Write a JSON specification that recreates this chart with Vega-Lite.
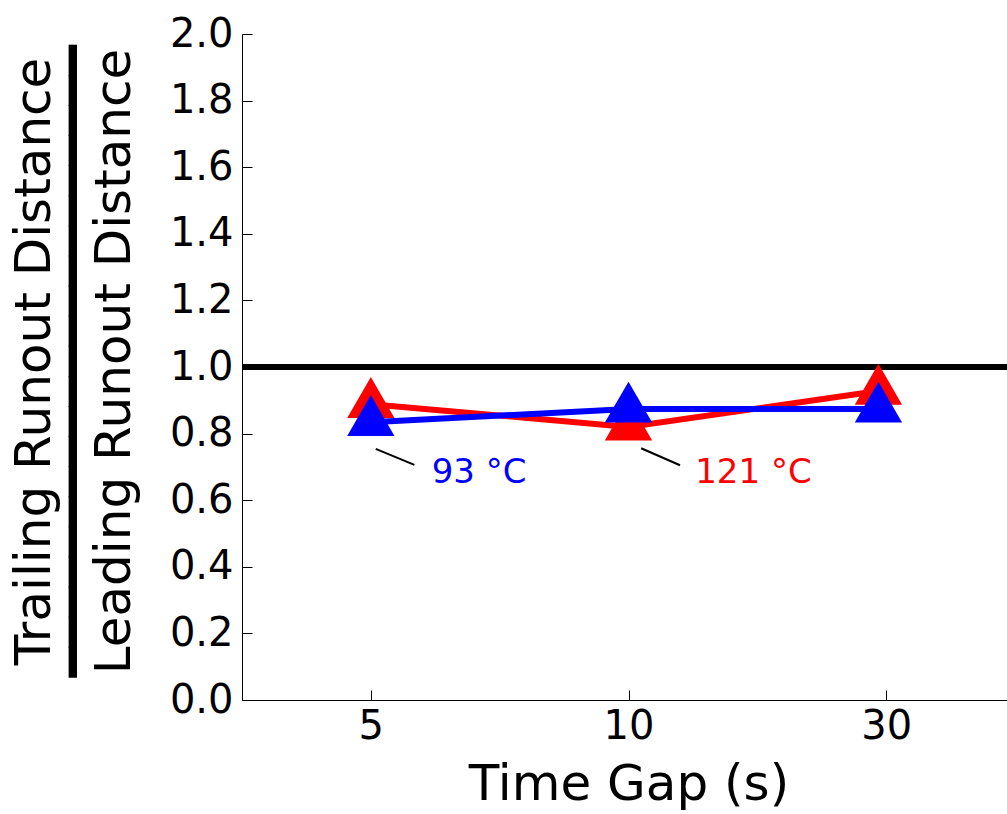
{
  "$schema": "https://vega.github.io/schema/vega-lite/v6.json",
  "autosize": "none",
  "padding": {"left": 242, "top": 34, "right": 0, "bottom": 114},
  "width": 773,
  "height": 666,
  "background": "white",
  "config": {
    "view": {"stroke": null},
    "font": "DejaVu Sans",
    "axis": {
      "labelFont": "DejaVu Sans",
      "titleFont": "DejaVu Sans",
      "labelColor": "black",
      "titleColor": "black",
      "titleFontWeight": "normal",
      "domainColor": "black",
      "tickColor": "black",
      "domainWidth": 1,
      "tickWidth": 1,
      "grid": false
    }
  },
  "data": {
    "values": [
      {"gap": "5", "slot": 0, "ratio": 0.888, "temp": "121 °C"},
      {"gap": "10", "slot": 1, "ratio": 0.82, "temp": "121 °C"},
      {"gap": "30", "slot": 1.97, "ratio": 0.928, "temp": "121 °C"},
      {"gap": "5", "slot": 0, "ratio": 0.834, "temp": "93 °C"},
      {"gap": "10", "slot": 1, "ratio": 0.874, "temp": "93 °C"},
      {"gap": "30", "slot": 1.97, "ratio": 0.874, "temp": "93 °C"}
    ]
  },
  "encoding": {
    "x": {
      "field": "slot",
      "type": "quantitative",
      "scale": {"domain": [-0.5, 2.5], "nice": false, "zero": false},
      "axis": {
        "values": [0, 1, 2],
        "labelExpr": "['5','10','30'][datum.value]",
        "title": "Time Gap (s)",
        "labelFontSize": 40,
        "titleFontSize": 50,
        "tickSize": -10,
        "labelPadding": 16,
        "titlePadding": 13
      }
    },
    "y": {
      "field": "ratio",
      "type": "quantitative",
      "scale": {"domain": [0, 2], "nice": false},
      "axis": {
        "values": [0, 0.2, 0.4, 0.6, 0.8, 1.0, 1.2, 1.4, 1.6, 1.8, 2.0],
        "format": ".1f",
        "title": ["Trailing Runout Distance", "━━━━━━━━━━━━━━━━━━━━━", "Leading Runout Distance"],
        "titleLineHeight": 40,
        "titleY": 327,
        "labelFontSize": 40,
        "titleFontSize": 50,
        "tickSize": -10,
        "labelPadding": 19,
        "titlePadding": 30
      }
    },
    "color": {
      "field": "temp",
      "type": "nominal",
      "scale": {"domain": ["121 °C", "93 °C"], "range": ["#ff0000", "#0000ff"]},
      "legend": null
    }
  },
  "layer": [
    {
      "mark": {"type": "rule", "color": "black", "strokeWidth": 6},
      "encoding": {"y": {"datum": 1}, "x": null, "color": null}
    },
    {
      "transform": [{"filter": "datum.temp === '121 °C'"}],
      "mark": {"type": "line", "strokeWidth": 6}
    },
    {
      "transform": [{"filter": "datum.temp === '121 °C'"}],
      "mark": {"type": "point", "filled": true, "opacity": 1, "size": 2240, "shape": "M0,-1.155L1,0.577L-1,0.577Z"}
    },
    {
      "transform": [{"filter": "datum.temp === '93 °C'"}],
      "mark": {"type": "line", "strokeWidth": 6}
    },
    {
      "transform": [{"filter": "datum.temp === '93 °C'"}],
      "mark": {"type": "point", "filled": true, "opacity": 1, "size": 2240, "shape": "M0,-1.155L1,0.577L-1,0.577Z"}
    },
    {
      "data": {
        "values": [
          {"x1": 0.019, "y1": 0.754, "x2": 0.169, "y2": 0.706},
          {"x1": 1.049, "y1": 0.756, "x2": 1.2, "y2": 0.705}
        ]
      },
      "mark": {"type": "rule", "color": "black", "strokeWidth": 2},
      "encoding": {
        "x": {"field": "x1", "type": "quantitative"},
        "y": {"field": "y1", "type": "quantitative"},
        "x2": {"field": "x2"},
        "y2": {"field": "y2"},
        "color": null
      }
    },
    {
      "data": {
        "values": [
          {"tx": 0.236, "ty": 0.652, "label": "93 °C", "temp": "93 °C"},
          {"tx": 1.259, "ty": 0.651, "label": "121 °C", "temp": "121 °C"}
        ]
      },
      "mark": {"type": "text", "align": "left", "baseline": "alphabetic", "fontSize": 34, "font": "DejaVu Sans"},
      "encoding": {
        "x": {"field": "tx", "type": "quantitative"},
        "y": {"field": "ty", "type": "quantitative"},
        "text": {"field": "label"}
      }
    }
  ]
}
